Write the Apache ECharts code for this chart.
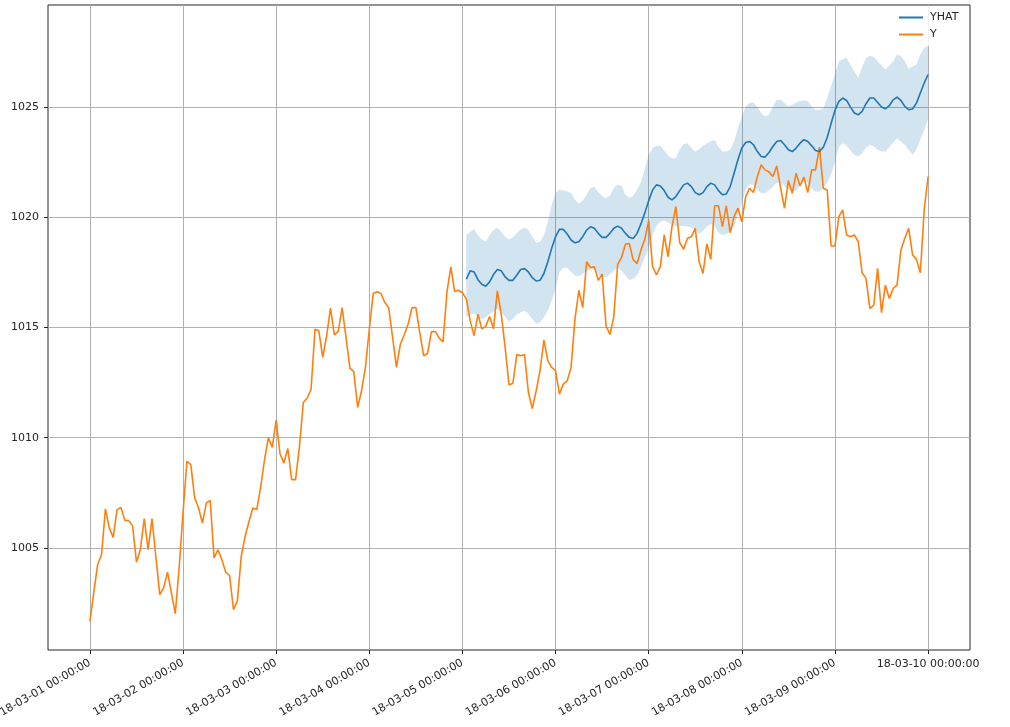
<!DOCTYPE html>
<html>
<head>
<meta charset="utf-8">
<title>YHAT / Y</title>
<script src="https://cdn.jsdelivr.net/npm/echarts@6.0.0/dist/echarts.min.js"></script>
<style>
  html, body { margin: 0; padding: 0; background: #fff; }
  #chart { width: 1010px; height: 727px; }
</style>
</head>
<body>
<div id="chart"></div>
<script>
// hourly observations, 18-03-01 00:00 .. 18-03-10 00:00 (hour 0 .. 216)
var yValues = [
  1001.67, 1003.0, 1004.24, 1004.7, 1006.77, 1005.9, 1005.48, 1006.74, 1006.84, 1006.25,
  1006.24, 1006.0, 1004.35, 1004.92, 1006.33, 1004.92, 1006.33, 1004.6, 1002.88, 1003.19,
  1003.9, 1002.96, 1002.02, 1004.1, 1006.6, 1008.93, 1008.78, 1007.27, 1006.81, 1006.13,
  1007.04, 1007.15, 1004.55, 1004.92, 1004.47, 1003.9, 1003.75, 1002.2, 1002.6, 1004.62,
  1005.53, 1006.2, 1006.81, 1006.74, 1007.75, 1009.0, 1010.0, 1009.56, 1010.8, 1009.26,
  1008.85, 1009.51, 1008.1, 1008.1, 1009.6, 1011.6, 1011.8, 1012.2, 1014.92, 1014.85,
  1013.64, 1014.62, 1015.88, 1014.67, 1014.82, 1015.9, 1014.55, 1013.16, 1013.0, 1011.37,
  1012.13, 1013.19, 1014.92, 1016.54, 1016.62, 1016.54, 1016.13, 1015.9, 1014.55, 1013.19,
  1014.24, 1014.67, 1015.15, 1015.9, 1015.9, 1014.77, 1013.72, 1013.82, 1014.8, 1014.82,
  1014.52, 1014.35, 1016.59, 1017.75, 1016.63, 1016.69, 1016.57, 1016.3, 1015.3, 1014.63,
  1015.6, 1014.94, 1015.05, 1015.5, 1014.94, 1016.66, 1015.62, 1014.1, 1012.4, 1012.46,
  1013.77, 1013.72, 1013.77, 1012.05, 1011.32, 1012.13, 1013.04, 1014.44, 1013.5, 1013.19,
  1013.04, 1011.98, 1012.43, 1012.58, 1013.19, 1015.39, 1016.69, 1015.9, 1017.98, 1017.72,
  1017.75, 1017.14, 1017.42, 1015.09, 1014.68, 1015.47, 1017.86, 1018.18, 1018.78, 1018.81,
  1018.08, 1017.9, 1018.51, 1019.0, 1019.85, 1017.76, 1017.38, 1017.76, 1019.2, 1018.21,
  1019.58, 1020.48, 1018.85, 1018.55, 1019.05, 1019.12, 1019.5, 1017.98, 1017.45, 1018.79,
  1018.09, 1020.52, 1020.52, 1019.58, 1020.52, 1019.3, 1020.03, 1020.41, 1019.8, 1020.94,
  1021.32, 1021.12, 1021.85, 1022.38, 1022.15, 1022.06, 1021.85, 1022.33, 1021.32, 1020.41,
  1021.67, 1021.09, 1022.0, 1021.42, 1021.82, 1021.12, 1022.15, 1022.15, 1023.18, 1021.32,
  1021.24, 1018.7, 1018.7, 1020.03, 1020.33, 1019.2, 1019.12, 1019.2, 1018.89, 1017.48,
  1017.23, 1015.86, 1016.02, 1017.68, 1015.67, 1016.92, 1016.32, 1016.77, 1016.92, 1018.52,
  1019.05, 1019.5, 1018.29, 1018.09, 1017.48, 1020.33, 1021.85
];

// forecast begins at hour 97 (18-03-05 01:00) and runs to hour 216
var forecastStart = 97;

var yhatValues = [
  1017.19, 1017.57, 1017.52, 1017.17, 1016.96, 1016.87, 1017.07, 1017.4, 1017.63, 1017.57,
  1017.3, 1017.14, 1017.14, 1017.37, 1017.63, 1017.67, 1017.52, 1017.26, 1017.11, 1017.14,
  1017.45, 1017.98, 1018.59, 1019.12, 1019.45, 1019.45, 1019.24, 1018.97, 1018.84, 1018.89,
  1019.12, 1019.42, 1019.57, 1019.5, 1019.27, 1019.09, 1019.09, 1019.27, 1019.5, 1019.6,
  1019.5, 1019.27, 1019.09, 1019.04, 1019.27, 1019.7, 1020.2, 1020.75, 1021.24, 1021.47,
  1021.42, 1021.21, 1020.91, 1020.79, 1020.94, 1021.21, 1021.47, 1021.55, 1021.39, 1021.12,
  1021.02, 1021.12, 1021.39, 1021.55, 1021.47, 1021.21, 1021.02, 1021.06, 1021.39, 1022.0,
  1022.61, 1023.14, 1023.39, 1023.44, 1023.29, 1022.98, 1022.76, 1022.73, 1022.94, 1023.21,
  1023.44, 1023.48, 1023.29, 1023.06, 1022.98, 1023.14, 1023.36, 1023.52, 1023.44, 1023.24,
  1023.03, 1022.98, 1023.18, 1023.62, 1024.25, 1024.85, 1025.26, 1025.41, 1025.3, 1025.0,
  1024.73, 1024.65, 1024.8, 1025.15, 1025.41, 1025.41, 1025.21, 1025.0, 1024.92, 1025.06,
  1025.33, 1025.45, 1025.3, 1025.03, 1024.88, 1024.91, 1025.18, 1025.64, 1026.09, 1026.47
];

var yhatUpper = [
  1019.19, 1019.34, 1019.45, 1019.19, 1018.99, 1018.89, 1019.19, 1019.42, 1019.53, 1019.34,
  1019.12, 1018.99, 1019.09, 1019.27, 1019.45, 1019.53, 1019.42, 1019.12, 1018.84, 1018.89,
  1019.19, 1019.8, 1020.56, 1021.1, 1021.25, 1021.22, 1021.17, 1021.1, 1020.79, 1020.61,
  1020.76, 1021.02, 1021.33, 1021.37, 1021.13, 1020.95, 1020.87, 1020.98, 1021.33, 1021.48,
  1021.43, 1021.02, 1020.87, 1020.98, 1021.25, 1021.6, 1022.2, 1022.83, 1023.14, 1023.24,
  1023.24, 1023.03, 1022.79, 1022.68, 1022.68, 1023.09, 1023.33, 1023.36, 1023.14, 1022.98,
  1023.09, 1023.24, 1023.36, 1023.44, 1023.52, 1023.18, 1022.98, 1022.98, 1023.06, 1023.44,
  1024.05, 1024.58, 1025.03, 1025.18, 1025.21, 1025.0, 1024.73, 1024.58, 1024.65, 1025.03,
  1025.33, 1025.33, 1025.18, 1025.03, 1025.11, 1025.21, 1025.27, 1025.3, 1025.26, 1025.03,
  1024.88, 1024.88, 1024.95, 1025.41, 1025.94, 1026.5, 1027.08, 1027.18, 1027.23, 1026.92,
  1026.62, 1026.32, 1026.82, 1027.23, 1027.33, 1027.27, 1027.08, 1026.88, 1026.7, 1026.88,
  1027.08, 1027.38, 1027.3, 1027.08, 1026.73, 1026.85, 1026.92, 1027.38, 1027.68, 1027.79
];

var yhatLower = [
  1015.46, 1015.58, 1015.64, 1015.46, 1015.38, 1015.46, 1015.61, 1015.73, 1015.84, 1015.69,
  1015.49, 1015.27, 1015.38, 1015.58, 1015.69, 1015.76, 1015.61, 1015.38, 1015.18, 1015.23,
  1015.46, 1015.76, 1016.22, 1016.75, 1017.52, 1017.71, 1017.71, 1017.52, 1017.36, 1017.32,
  1017.44, 1017.56, 1017.62, 1017.62, 1017.41, 1017.29, 1017.29, 1017.41, 1017.59, 1017.71,
  1017.59, 1017.36, 1017.16, 1017.21, 1017.36, 1017.74, 1018.2, 1018.6, 1019.2, 1019.6,
  1019.8, 1019.85, 1019.76, 1019.65, 1019.58, 1019.61, 1019.61, 1019.58, 1019.55, 1019.42,
  1019.24, 1019.39, 1019.58, 1019.7, 1019.61, 1019.3, 1019.2, 1019.24, 1019.35, 1019.58,
  1020.11, 1020.64, 1021.24, 1021.52, 1021.47, 1021.24, 1021.09, 1021.09, 1021.21, 1021.39,
  1021.58, 1021.55, 1021.42, 1021.27, 1021.17, 1021.21, 1021.47, 1021.67, 1021.55, 1021.32,
  1021.17, 1021.17, 1021.32, 1021.58, 1021.95, 1022.5, 1023.2, 1023.36, 1023.24, 1023.03,
  1022.83, 1022.76, 1022.91, 1023.14, 1023.29, 1023.21, 1023.06, 1022.98, 1022.98, 1023.18,
  1023.39, 1023.59, 1023.44, 1023.29, 1023.06, 1022.83, 1023.09, 1023.52, 1023.97, 1024.45
];

// x ticks in hours since 18-03-01 00:00
var dayTicks = [0, 24, 48, 72, 96, 120, 144, 168, 192, 216];
var dayLabels = [
  '18-03-01 00:00:00', '18-03-02 00:00:00', '18-03-03 00:00:00', '18-03-04 00:00:00',
  '18-03-05 00:00:00', '18-03-06 00:00:00', '18-03-07 00:00:00', '18-03-08 00:00:00',
  '18-03-09 00:00:00', '18-03-10 00:00:00'
];
var yTicks = [1005, 1010, 1015, 1020, 1025];

var ySeries = yValues.map(function (v, i) { return [i, v]; });
var yhatSeries = yhatValues.map(function (v, i) { return [forecastStart + i, v]; });
var bandSeries = yhatUpper.map(function (v, i) { return [forecastStart + i, yhatLower[i], v]; });

function dayLabel(v) {
  var i = dayTicks.indexOf(Math.round(v));
  return i >= 0 ? dayLabels[i] : '';
}

var font = 'DejaVu Sans';
var textColor = '#262626';
var chart = echarts.init(document.getElementById('chart'), null, { renderer: 'canvas' });

chart.setOption({
  animation: false,
  backgroundColor: '#fff',
  textStyle: { fontFamily: font },
  grid: {
    left: 48, right: 40, top: 5, bottom: 77,
    outerBoundsMode: 'none',
    containLabel: false,
    show: true, borderColor: '#262626', borderWidth: 1, backgroundColor: 'transparent'
  },
  legend: {
    data: ['YHAT', 'Y'],
    orient: 'vertical',
    left: 894, top: 6,
    padding: [5, 5, 5, 5],
    itemGap: 4,
    icon: 'rect',
    itemWidth: 24, itemHeight: 2,
    backgroundColor: 'rgba(255,255,255,0.8)',
    textStyle: { fontFamily: font, fontSize: 11, color: textColor, padding: [0, 0, 0, 2], lineHeight: 13 }
  },
  xAxis: [{
    type: 'value',
    min: -10.8, max: 226.8,
    axisLine: { show: false, onZero: false },
    axisTick: { show: true, length: 4, lineStyle: { color: '#262626' }, customValues: dayTicks },
    splitLine: { show: true, lineStyle: { color: '#b0b0b0', width: 1 } },
    axisLabel: {
      customValues: dayTicks.slice(0, -1),
      rotate: 30, margin: 12,
      fontFamily: font, fontSize: 11, color: textColor,
      formatter: dayLabel
    }
  }, {
    type: 'value',
    position: 'bottom',
    min: -10.8, max: 226.8,
    axisLine: { show: false, onZero: false },
    axisTick: { show: false },
    splitLine: { show: false },
    axisLabel: {
      customValues: dayTicks.slice(-1),
      rotate: 0, margin: 9,
      fontFamily: font, fontSize: 11, color: textColor,
      formatter: dayLabel
    }
  }],
  yAxis: {
    type: 'value',
    min: 1000.37, max: 1029.63,
    axisLine: { show: false, onZero: false },
    axisTick: { show: true, length: 4, lineStyle: { color: '#262626' }, customValues: yTicks },
    splitLine: { show: true, lineStyle: { color: '#b0b0b0', width: 1 } },
    axisLabel: {
      customValues: yTicks,
      margin: 9,
      fontFamily: font, fontSize: 11, color: textColor,
      formatter: function (v) { return String(v); }
    }
  },
  series: [{
    name: 'band',
    type: 'custom',
    z: 1,
    silent: true,
    data: bandSeries,
    encode: { x: 0, y: [1, 2] },
    renderItem: function (params, api) {
      if (params.dataIndex !== 0) return null;
      var pts = [];
      var i;
      for (i = 0; i < bandSeries.length; i++) {
        pts.push(api.coord([bandSeries[i][0], bandSeries[i][2]]));
      }
      for (i = bandSeries.length - 1; i >= 0; i--) {
        pts.push(api.coord([bandSeries[i][0], bandSeries[i][1]]));
      }
      return {
        type: 'polygon',
        shape: { points: pts },
        style: { fill: 'rgba(31,119,180,0.2)', stroke: null }
      };
    }
  }, {
    name: 'YHAT',
    type: 'line',
    z: 3,
    data: yhatSeries,
    symbol: 'none',
    color: '#1f77b4',
    lineStyle: { color: '#1f77b4', width: 1.6 }
  }, {
    name: 'Y',
    type: 'line',
    z: 2,
    data: ySeries,
    symbol: 'none',
    color: '#ff7f0e',
    lineStyle: { color: '#ff7f0e', width: 1.6 }
  }]
});
</script>
</body>
</html>
